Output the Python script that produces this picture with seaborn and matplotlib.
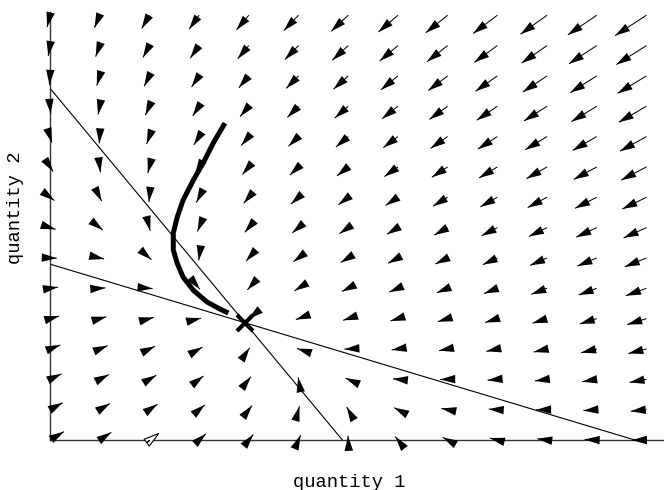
import numpy as np
import matplotlib
matplotlib.use("Agg")
import matplotlib.pyplot as plt
import seaborn as sns

# Grid of sample points
q1_grid = [0, 1.02, 2.04, 3.06, 4.08, 5.10, 6.12, 7.14, 8.16, 9.18, 10.20, 11.22, 12.24]
q2_grid = [0, 1.035, 2.07, 3.105, 4.14, 5.175, 6.21, 7.245, 8.28, 9.315,
           10.35, 11.385, 12.42, 13.455, 14.49]

# Arrow components, one row per q2 value (bottom row first)
U_rows = [
    [12.0, 10.0, 7.9, 5.9, 3.8, 1.8, -0.2, -2.3, -4.3, -6.4, -8.4, -10.4, -12.5],
    [11.0, 8.9, 6.9, 4.8, 2.8, 0.8, -1.3, -3.3, -5.4, -7.4, -9.4, -11.5, -13.5],
    [9.9, 7.9, 5.9, 3.8, 1.8, -0.3, -2.3, -4.3, -6.4, -8.4, -10.5, -12.5, -14.6],
    [8.9, 6.9, 4.8, 2.8, 0.7, -1.3, -3.3, -5.4, -7.4, -9.5, -11.5, -13.5, -15.6],
    [7.9, 5.8, 3.8, 1.7, -0.3, -2.3, -4.4, -6.4, -8.5, -10.5, -12.5, -14.6, -16.6],
    [6.8, 4.8, 2.7, 0.7, -1.3, -3.4, -5.4, -7.5, -9.5, -11.5, -13.6, -15.6, -17.7],
    [5.8, 3.8, 1.7, -0.3, -2.4, -4.4, -6.5, -8.5, -10.5, -12.6, -14.6, -16.7, -18.7],
    [4.8, 2.7, 0.7, -1.4, -3.4, -5.4, -7.5, -9.5, -11.6, -13.6, -15.6, -17.7, -19.7],
    [3.7, 1.7, -0.4, -2.4, -4.4, -6.5, -8.5, -10.6, -12.6, -14.6, -16.7, -18.7, -20.8],
    [2.7, 0.6, -1.4, -3.4, -5.5, -7.5, -9.6, -11.6, -13.6, -15.7, -17.7, -19.8, -21.8],
    [1.7, -0.4, -2.4, -4.5, -6.5, -8.6, -10.6, -12.6, -14.7, -16.7, -18.8, -20.8, -22.8],
    [0.6, -1.4, -3.5, -5.5, -7.5, -9.6, -11.6, -13.7, -15.7, -17.7, -19.8, -21.8, -23.9],
    [-0.4, -2.5, -4.5, -6.5, -8.6, -10.6, -12.7, -14.7, -16.7, -18.8, -20.8, -22.9, -24.9],
    [-1.5, -3.5, -5.5, -7.6, -9.6, -11.7, -13.7, -15.7, -17.8, -19.8, -21.9, -23.9, -25.9],
    [-2.5, -4.5, -6.6, -8.6, -10.7, -12.7, -14.7, -16.8, -18.8, -20.9, -22.9, -24.9, -27.0],
]
V_rows = [
    [12.0, 11.0, 10.0, 8.9, 7.9, 6.9, 5.9, 4.9, 3.8, 2.8, 1.8, 0.8, -0.2],
    [9.9, 8.9, 7.9, 6.9, 5.9, 4.8, 3.8, 2.8, 1.8, 0.8, -0.3, -1.3, -2.3],
    [7.9, 6.8, 5.8, 4.8, 3.8, 2.8, 1.7, 0.7, -0.3, -1.3, -2.3, -3.4, -4.4],
    [5.8, 4.8, 3.8, 2.7, 1.7, 0.7, -0.3, -1.4, -2.4, -3.4, -4.4, -5.4, -6.5],
    [3.7, 2.7, 1.7, 0.7, -0.4, -1.4, -2.4, -3.4, -4.4, -5.5, -6.5, -7.5, -8.5],
    [1.7, 0.6, -0.4, -1.4, -2.4, -3.5, -4.5, -5.5, -6.5, -7.5, -8.6, -9.6, -10.6],
    [-0.4, -1.4, -2.5, -3.5, -4.5, -5.5, -6.5, -7.6, -8.6, -9.6, -10.6, -11.6, -12.7],
    [-2.5, -3.5, -4.5, -5.6, -6.6, -7.6, -8.6, -9.6, -10.7, -11.7, -12.7, -13.7, -14.7],
    [-4.6, -5.6, -6.6, -7.6, -8.6, -9.7, -10.7, -11.7, -12.7, -13.7, -14.8, -15.8, -16.8],
    [-6.6, -7.7, -8.7, -9.7, -10.7, -11.7, -12.8, -13.8, -14.8, -15.8, -16.8, -17.9, -18.9],
    [-8.7, -9.7, -10.7, -11.8, -12.8, -13.8, -14.8, -15.8, -16.9, -17.9, -18.9, -19.9, -20.9],
    [-10.8, -11.8, -12.8, -13.8, -14.9, -15.9, -16.9, -17.9, -18.9, -20.0, -21.0, -22.0, -23.0],
    [-12.8, -13.9, -14.9, -15.9, -16.9, -17.9, -19.0, -20.0, -21.0, -22.0, -23.0, -24.1, -25.1],
    [-14.9, -15.9, -17.0, -18.0, -19.0, -20.0, -21.0, -22.1, -23.1, -24.1, -25.1, -26.1, -27.2],
    [-17.0, -18.0, -19.0, -20.0, -21.1, -22.1, -23.1, -24.1, -25.1, -26.2, -27.2, -28.2, -29.2],
]

# Reaction lines (end points on the axes)
line1_q1 = [0, 6]
line1_q2 = [12, 0]
line2_q1 = [0, 12]
line2_q2 = [6, 0]

# Adjustment path
path_q1 = [3.59, 3.35, 3.14, 2.94, 2.73, 2.61, 2.53, 2.53, 2.61, 2.73, 2.94, 3.22, 3.45, 3.66]
path_q2 = [10.81, 10.13, 9.44, 8.86, 8.18, 7.60, 7.06, 6.48, 6.03, 5.56, 5.11, 4.71, 4.50, 4.33]

# Equilibrium
eq_q1 = [4]
eq_q2 = [4]

sns.set_theme(style="white")
plt.rcParams['font.family'] = ['Liberation Mono', 'DejaVu Sans Mono']

fig = plt.figure(figsize=(6.64, 4.9), dpi=100)
ax = fig.add_axes([50 / 664, 50 / 490, 614 / 664, 428 / 490])

X, Y = np.meshgrid(q1_grid, q2_grid)
U = np.array(U_rows)
V = np.array(V_rows)

# one arrow in the reference is drawn hollow
hollow = np.zeros_like(U, dtype=bool)
hollow[0, 2] = True
solid = ~hollow

common = dict(angles='xy', scale_units='xy', scale=42, units='dots',
              pivot='tail', clip_on=False)
# heads: fixed size triangles whose tip sits at the end of the vector
w = 0.05
head_kw = dict(width=w, headwidth=8.5 / w, headlength=15 / w, headaxislength=15 / w,
               minshaft=0, minlength=0, **common)
# shafts: plain thin lines from the sample point to the tip
shaft_kw = dict(width=1.0, headwidth=1, headlength=0, headaxislength=0,
                minshaft=0, minlength=0, **common)

ax.quiver(X[solid], Y[solid], U[solid], V[solid], color='black', zorder=3, **shaft_kw)
ax.quiver(X[solid], Y[solid], U[solid], V[solid], color='black', zorder=3, **head_kw)
ax.quiver(X[hollow], Y[hollow], U[hollow], V[hollow], facecolor='white',
          edgecolor='black', linewidth=0.8, zorder=3, **head_kw)

sns.lineplot(x=line1_q1, y=line1_q2, color='black', lw=0.8, ax=ax, zorder=2)
sns.lineplot(x=line2_q1, y=line2_q2, color='black', lw=0.8, ax=ax, zorder=2)
sns.lineplot(x=path_q1, y=path_q2, sort=False, estimator=None, color='black',
             lw=3.6, ax=ax, zorder=4, solid_capstyle='butt')
ax.plot(eq_q1, eq_q2, marker='x', color='black', markersize=11, mew=3,
        linestyle='none', zorder=5)

ax.set_xlim(0, 12.6)
ax.set_ylim(0, 14.6)
ax.set_xticks([])
ax.set_yticks([])
sns.despine(ax=ax)
for side in ['left', 'bottom']:
    ax.spines[side].set_color('#333333')
    ax.spines[side].set_linewidth(1.0)
ax.set_facecolor('none')

fig.text(349 / 664, 1 - 482 / 490, 'quantity 1', ha='center', va='center',
         fontsize=13.5, color='black')
fig.text(16 / 664, 1 - 208 / 490, 'quantity 2', ha='center', va='center',
         rotation=90, fontsize=13.5, color='black')

fig.savefig('out.png', dpi=100)
